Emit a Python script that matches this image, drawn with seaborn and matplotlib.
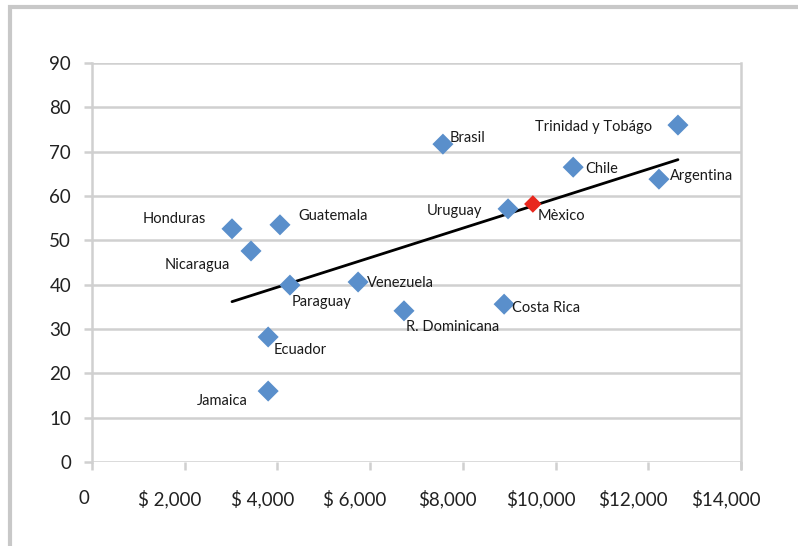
import matplotlib
matplotlib.use("Agg")
import matplotlib.pyplot as plt
import matplotlib.patches as mpatches
import matplotlib.transforms as mtransforms
from matplotlib.ticker import FixedLocator, FixedFormatter
import seaborn as sns
import pandas as pd

# Country data: GDP per capita (US$) vs. indicator value
paises = ["Honduras", "Nicaragua", "Guatemala", "Paraguay", "Venezuela",
          "Ecuador", "Jamaica", "R. Dominicana", "Costa Rica", "Brasil",
          "Uruguay", "Mèxico", "Chile", "Argentina", "Trinidad y Tobágo"]
pib = [3020, 3430, 4055, 4270, 5740,
       3800, 3800, 6730, 8890, 7570,
       8975, 9510, 10380, 12230, 12640]
valor = [52.6, 47.6, 53.5, 39.9, 40.6,
         28.2, 16.0, 34.1, 35.6, 71.7,
         57.1, 58.2, 66.5, 63.8, 76.0]
destacado = "Mèxico"

x_ticks = [0, 2000, 4000, 6000, 8000, 10000, 12000, 14000]
x_labels = ["0", "$ 2,000", "$ 4,000", "$ 6,000", "$8,000", "$10,000", "$12,000", "$14,000"]
y_ticks = [0, 10, 20, 30, 40, 50, 60, 70, 80, 90]

# label offsets in pixels (dx, dy, horizontal alignment)
offsets = {
    "Honduras": (-26, 10, "right"),
    "Nicaragua": (-21, -14, "right"),
    "Guatemala": (18, 9, "left"),
    "Paraguay": (2, -17, "left"),
    "Venezuela": (9, -1, "left"),
    "Ecuador": (5, -13, "left"),
    "Jamaica": (-20, -10, "right"),
    "R. Dominicana": (2, -16, "left"),
    "Costa Rica": (8, -4, "left"),
    "Brasil": (7, 6, "left"),
    "Uruguay": (-26, -2, "right"),
    "Mèxico": (5, -12, "left"),
    "Chile": (12, -2, "left"),
    "Argentina": (11, 3, "left"),
    "Trinidad y Tobágo": (-26, -2, "right"),
}

df = pd.DataFrame({"pais": paises, "pib": pib, "valor": valor})
df["grupo"] = ["dest" if p == destacado else "resto" for p in paises]

sns.set_theme(style="white")
plt.rcParams["font.family"] = ["Lato", "DejaVu Sans"]

fig = plt.figure(figsize=(7.98, 5.46), dpi=100)
ax = fig.add_axes([92 / 798, 1 - 462 / 546, (741 - 92) / 798, (462 - 63) / 546])

grid_c = "#d0d0d0"
ax.set_axisbelow(True)
for yt in y_ticks:
    ax.axhline(yt, color=grid_c, lw=1.8, zorder=0)

sns.regplot(data=df, x="pib", y="valor", scatter=False, ci=None, truncate=True,
            color="black", line_kws={"lw": 2, "zorder": 2}, ax=ax)

sns.scatterplot(data=df, x="pib", y="valor", hue="grupo", size="grupo",
                sizes={"resto": 115, "dest": 80},
                palette={"resto": "#5a8fcb", "dest": "#e8281e"},
                marker="D", edgecolor="none", legend=False, zorder=3, ax=ax)

for p, xv, yv in zip(paises, pib, valor):
    dx, dy, ha = offsets[p]
    ax.annotate(p, (xv, yv), xytext=(dx, dy), textcoords="offset pixels",
                ha=ha, va="center", fontsize=10.5, color="#1a1a1a", zorder=4)

ax.set_xlim(0, 14000)
ax.set_ylim(0, 90)
ax.xaxis.set_major_locator(FixedLocator(x_ticks))
ax.xaxis.set_major_formatter(FixedFormatter(x_labels))
ax.yaxis.set_major_locator(FixedLocator(y_ticks))
ax.set_xlabel("")
ax.set_ylabel("")

for side in ["top", "bottom"]:
    ax.spines[side].set_visible(False)
for side in ["left", "right"]:
    ax.spines[side].set_visible(True)
    ax.spines[side].set_color(grid_c)
    ax.spines[side].set_linewidth(1.8)

ax.tick_params(axis="x", which="major", bottom=True, length=6, width=1.8,
               color=grid_c, labelsize=13.5, labelcolor="#222222", pad=14,
               direction="out")
ax.tick_params(axis="y", which="major", left=True, length=6, width=1.8,
               color=grid_c, labelsize=13.5, labelcolor="#222222", pad=9,
               direction="out")
# right spine tick at 14000 extends below axis
ax.plot([14000, 14000], [0, -1.6], color=grid_c, lw=1.8, clip_on=False, zorder=0)

# currency labels sit slightly left of their ticks
for lbl in ax.get_xticklabels():
    shift = -8 if lbl.get_text() == "0" else -15
    lbl.set_transform(lbl.get_transform() +
                      mtransforms.ScaledTranslation(shift / 100, 0, fig.dpi_scale_trans))

# outer chart border
border = mpatches.Rectangle((9.5 / 798, -0.2), 1.2, 1 - 6.5 / 546 + 0.2,
                            transform=fig.transFigure, fill=False,
                            edgecolor="#c8c8c8", lw=3)
fig.patches.append(border)

fig.savefig("out.png", dpi=100)
